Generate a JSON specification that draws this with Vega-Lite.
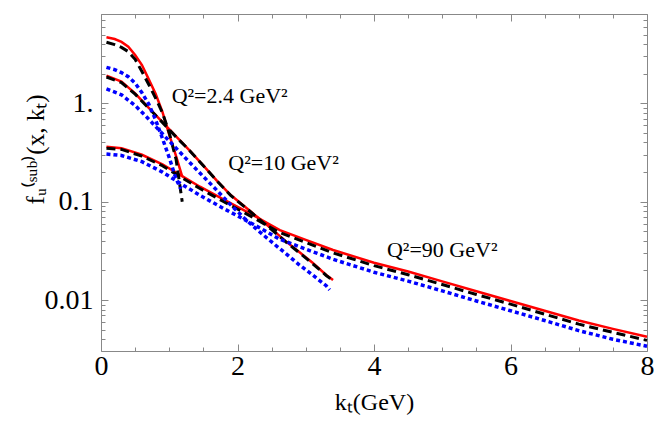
{
  "$schema": "https://vega.github.io/schema/vega-lite/v6.json",
  "width": 546,
  "height": 337,
  "autosize": {"type": "none"},
  "padding": {"left": 101, "top": 14, "right": 7, "bottom": 79},
  "background": "white",
  "datasets": {
    "curves": [
      {"model": "red", "q2": "2.4", "kT": 0.08, "f": 4.69},
      {"model": "red", "q2": "2.4", "kT": 0.2, "f": 4.5},
      {"model": "red", "q2": "2.4", "kT": 0.3, "f": 4.2},
      {"model": "red", "q2": "2.4", "kT": 0.4, "f": 3.76},
      {"model": "red", "q2": "2.4", "kT": 0.5, "f": 3.1},
      {"model": "red", "q2": "2.4", "kT": 0.6, "f": 2.45},
      {"model": "red", "q2": "2.4", "kT": 0.7, "f": 1.75},
      {"model": "red", "q2": "2.4", "kT": 0.8, "f": 1.25},
      {"model": "red", "q2": "2.4", "kT": 0.9, "f": 0.82},
      {"model": "red", "q2": "2.4", "kT": 1.0, "f": 0.48},
      {"model": "red", "q2": "2.4", "kT": 1.1, "f": 0.29},
      {"model": "red", "q2": "2.4", "kT": 1.19, "f": 0.18},
      {"model": "black", "q2": "2.4", "kT": 0.08, "f": 4.17},
      {"model": "black", "q2": "2.4", "kT": 0.2, "f": 3.95},
      {"model": "black", "q2": "2.4", "kT": 0.3, "f": 3.7},
      {"model": "black", "q2": "2.4", "kT": 0.4, "f": 3.35},
      {"model": "black", "q2": "2.4", "kT": 0.5, "f": 2.8},
      {"model": "black", "q2": "2.4", "kT": 0.6, "f": 2.1},
      {"model": "black", "q2": "2.4", "kT": 0.7, "f": 1.55},
      {"model": "black", "q2": "2.4", "kT": 0.8, "f": 1.13},
      {"model": "black", "q2": "2.4", "kT": 0.9, "f": 0.8},
      {"model": "black", "q2": "2.4", "kT": 1.0, "f": 0.5},
      {"model": "black", "q2": "2.4", "kT": 1.1, "f": 0.27},
      {"model": "black", "q2": "2.4", "kT": 1.19, "f": 0.1},
      {"model": "blue", "q2": "2.4", "kT": 0.08, "f": 2.32},
      {"model": "blue", "q2": "2.4", "kT": 0.2, "f": 2.2},
      {"model": "blue", "q2": "2.4", "kT": 0.3, "f": 2.05},
      {"model": "blue", "q2": "2.4", "kT": 0.4, "f": 1.86},
      {"model": "blue", "q2": "2.4", "kT": 0.5, "f": 1.6},
      {"model": "blue", "q2": "2.4", "kT": 0.6, "f": 1.28},
      {"model": "blue", "q2": "2.4", "kT": 0.7, "f": 0.98},
      {"model": "blue", "q2": "2.4", "kT": 0.8, "f": 0.68},
      {"model": "blue", "q2": "2.4", "kT": 0.9, "f": 0.44},
      {"model": "blue", "q2": "2.4", "kT": 1.0, "f": 0.28},
      {"model": "blue", "q2": "2.4", "kT": 1.1, "f": 0.17},
      {"model": "blue", "q2": "2.4", "kT": 1.17, "f": 0.135},
      {"model": "red", "q2": "10", "kT": 0.08, "f": 1.91},
      {"model": "red", "q2": "10", "kT": 0.3, "f": 1.66},
      {"model": "red", "q2": "10", "kT": 0.5, "f": 1.26},
      {"model": "red", "q2": "10", "kT": 0.7, "f": 0.9},
      {"model": "red", "q2": "10", "kT": 0.9, "f": 0.645},
      {"model": "red", "q2": "10", "kT": 1.1, "f": 0.46},
      {"model": "red", "q2": "10", "kT": 1.3, "f": 0.33},
      {"model": "red", "q2": "10", "kT": 1.5, "f": 0.233},
      {"model": "red", "q2": "10", "kT": 1.7, "f": 0.163},
      {"model": "red", "q2": "10", "kT": 1.9, "f": 0.117},
      {"model": "red", "q2": "10", "kT": 2.1, "f": 0.09},
      {"model": "red", "q2": "10", "kT": 2.3, "f": 0.069},
      {"model": "red", "q2": "10", "kT": 2.5, "f": 0.053},
      {"model": "red", "q2": "10", "kT": 2.7, "f": 0.04},
      {"model": "red", "q2": "10", "kT": 2.9, "f": 0.031},
      {"model": "red", "q2": "10", "kT": 3.1, "f": 0.024},
      {"model": "red", "q2": "10", "kT": 3.3, "f": 0.018},
      {"model": "red", "q2": "10", "kT": 3.4, "f": 0.016},
      {"model": "black", "q2": "10", "kT": 0.08, "f": 1.85},
      {"model": "black", "q2": "10", "kT": 0.3, "f": 1.62},
      {"model": "black", "q2": "10", "kT": 0.5, "f": 1.24},
      {"model": "black", "q2": "10", "kT": 0.7, "f": 0.89},
      {"model": "black", "q2": "10", "kT": 0.9, "f": 0.64},
      {"model": "black", "q2": "10", "kT": 1.1, "f": 0.455},
      {"model": "black", "q2": "10", "kT": 1.3, "f": 0.33},
      {"model": "black", "q2": "10", "kT": 1.5, "f": 0.232},
      {"model": "black", "q2": "10", "kT": 1.7, "f": 0.162},
      {"model": "black", "q2": "10", "kT": 1.9, "f": 0.116},
      {"model": "black", "q2": "10", "kT": 2.1, "f": 0.089},
      {"model": "black", "q2": "10", "kT": 2.3, "f": 0.068},
      {"model": "black", "q2": "10", "kT": 2.5, "f": 0.052},
      {"model": "black", "q2": "10", "kT": 2.7, "f": 0.0395},
      {"model": "black", "q2": "10", "kT": 2.9, "f": 0.0305},
      {"model": "black", "q2": "10", "kT": 3.1, "f": 0.0235},
      {"model": "black", "q2": "10", "kT": 3.3, "f": 0.0178},
      {"model": "black", "q2": "10", "kT": 3.4, "f": 0.0158},
      {"model": "blue", "q2": "10", "kT": 0.08, "f": 1.4},
      {"model": "blue", "q2": "10", "kT": 0.3, "f": 1.22},
      {"model": "blue", "q2": "10", "kT": 0.5, "f": 0.95},
      {"model": "blue", "q2": "10", "kT": 0.7, "f": 0.69},
      {"model": "blue", "q2": "10", "kT": 0.9, "f": 0.49},
      {"model": "blue", "q2": "10", "kT": 1.1, "f": 0.35},
      {"model": "blue", "q2": "10", "kT": 1.3, "f": 0.25},
      {"model": "blue", "q2": "10", "kT": 1.5, "f": 0.18},
      {"model": "blue", "q2": "10", "kT": 1.7, "f": 0.13},
      {"model": "blue", "q2": "10", "kT": 1.9, "f": 0.093},
      {"model": "blue", "q2": "10", "kT": 2.1, "f": 0.068},
      {"model": "blue", "q2": "10", "kT": 2.3, "f": 0.051},
      {"model": "blue", "q2": "10", "kT": 2.5, "f": 0.039},
      {"model": "blue", "q2": "10", "kT": 2.7, "f": 0.03},
      {"model": "blue", "q2": "10", "kT": 2.9, "f": 0.023},
      {"model": "blue", "q2": "10", "kT": 3.1, "f": 0.018},
      {"model": "blue", "q2": "10", "kT": 3.3, "f": 0.014},
      {"model": "blue", "q2": "10", "kT": 3.35, "f": 0.0127},
      {"model": "red", "q2": "90", "kT": 0.08, "f": 0.362},
      {"model": "red", "q2": "90", "kT": 0.3, "f": 0.35},
      {"model": "red", "q2": "90", "kT": 0.6, "f": 0.3},
      {"model": "red", "q2": "90", "kT": 0.9, "f": 0.24},
      {"model": "red", "q2": "90", "kT": 1.2, "f": 0.18},
      {"model": "red", "q2": "90", "kT": 1.45, "f": 0.142},
      {"model": "red", "q2": "90", "kT": 1.8, "f": 0.105},
      {"model": "red", "q2": "90", "kT": 2.23, "f": 0.073},
      {"model": "red", "q2": "90", "kT": 2.62, "f": 0.0515},
      {"model": "red", "q2": "90", "kT": 3.0, "f": 0.041},
      {"model": "red", "q2": "90", "kT": 3.4, "f": 0.0323},
      {"model": "red", "q2": "90", "kT": 4.0, "f": 0.024},
      {"model": "red", "q2": "90", "kT": 4.5, "f": 0.0195},
      {"model": "red", "q2": "90", "kT": 5.0, "f": 0.0155},
      {"model": "red", "q2": "90", "kT": 5.5, "f": 0.0123},
      {"model": "red", "q2": "90", "kT": 6.0, "f": 0.0098},
      {"model": "red", "q2": "90", "kT": 6.5, "f": 0.0078},
      {"model": "red", "q2": "90", "kT": 7.0, "f": 0.0062},
      {"model": "red", "q2": "90", "kT": 7.5, "f": 0.0051},
      {"model": "red", "q2": "90", "kT": 8.0, "f": 0.00425},
      {"model": "black", "q2": "90", "kT": 0.08, "f": 0.35},
      {"model": "black", "q2": "90", "kT": 0.3, "f": 0.34},
      {"model": "black", "q2": "90", "kT": 0.6, "f": 0.29},
      {"model": "black", "q2": "90", "kT": 0.9, "f": 0.232},
      {"model": "black", "q2": "90", "kT": 1.2, "f": 0.173},
      {"model": "black", "q2": "90", "kT": 1.45, "f": 0.136},
      {"model": "black", "q2": "90", "kT": 1.8, "f": 0.1},
      {"model": "black", "q2": "90", "kT": 2.23, "f": 0.069},
      {"model": "black", "q2": "90", "kT": 2.62, "f": 0.0485},
      {"model": "black", "q2": "90", "kT": 3.0, "f": 0.0385},
      {"model": "black", "q2": "90", "kT": 3.4, "f": 0.0302},
      {"model": "black", "q2": "90", "kT": 4.0, "f": 0.0224},
      {"model": "black", "q2": "90", "kT": 4.5, "f": 0.0181},
      {"model": "black", "q2": "90", "kT": 5.0, "f": 0.0144},
      {"model": "black", "q2": "90", "kT": 5.5, "f": 0.0114},
      {"model": "black", "q2": "90", "kT": 6.0, "f": 0.0091},
      {"model": "black", "q2": "90", "kT": 6.5, "f": 0.0072},
      {"model": "black", "q2": "90", "kT": 7.0, "f": 0.0057},
      {"model": "black", "q2": "90", "kT": 7.5, "f": 0.0047},
      {"model": "black", "q2": "90", "kT": 8.0, "f": 0.0039},
      {"model": "blue", "q2": "90", "kT": 0.08, "f": 0.305},
      {"model": "blue", "q2": "90", "kT": 0.3, "f": 0.295},
      {"model": "blue", "q2": "90", "kT": 0.6, "f": 0.255},
      {"model": "blue", "q2": "90", "kT": 0.9, "f": 0.2},
      {"model": "blue", "q2": "90", "kT": 1.2, "f": 0.148},
      {"model": "blue", "q2": "90", "kT": 1.45, "f": 0.116},
      {"model": "blue", "q2": "90", "kT": 1.8, "f": 0.085},
      {"model": "blue", "q2": "90", "kT": 2.23, "f": 0.059},
      {"model": "blue", "q2": "90", "kT": 2.62, "f": 0.0415},
      {"model": "blue", "q2": "90", "kT": 3.0, "f": 0.033},
      {"model": "blue", "q2": "90", "kT": 3.4, "f": 0.026},
      {"model": "blue", "q2": "90", "kT": 4.0, "f": 0.0192},
      {"model": "blue", "q2": "90", "kT": 4.5, "f": 0.0156},
      {"model": "blue", "q2": "90", "kT": 5.0, "f": 0.0124},
      {"model": "blue", "q2": "90", "kT": 5.5, "f": 0.0098},
      {"model": "blue", "q2": "90", "kT": 6.0, "f": 0.0078},
      {"model": "blue", "q2": "90", "kT": 6.5, "f": 0.0062},
      {"model": "blue", "q2": "90", "kT": 7.0, "f": 0.0049},
      {"model": "blue", "q2": "90", "kT": 7.5, "f": 0.004},
      {"model": "blue", "q2": "90", "kT": 8.0, "f": 0.0034}
    ],
    "labels": [
      {"kT": 1.035, "f": 1.0, "text": "Q²=2.4 GeV²"},
      {"kT": 1.865, "f": 0.21, "text": "Q²=10 GeV²"},
      {"kT": 4.19, "f": 0.0272, "text": "Q²=90 GeV²"}
    ]
  },
  "layer": [
    {
      "data": {"name": "curves"},
      "transform": [{"filter": "datum.model == 'red'"}],
      "mark": {"type": "line", "color": "#ff0000", "strokeWidth": 2.5},
      "encoding": {
        "x": {
          "field": "kT", "type": "quantitative",
          "scale": {"domain": [0, 8], "nice": false, "zero": false},
          "axis": {"orient": "bottom", "values": [0, 2, 4, 6, 8], "tickSize": -7, "labelPadding": 8,
                   "labelFontSize": 28, "title": "kₜ(GeV)", "titleFontSize": 24, "titlePadding": 10}
        },
        "y": {
          "field": "f", "type": "quantitative",
          "scale": {"type": "log", "domain": [0.00304, 8.08], "nice": false},
          "axis": {"orient": "left", "values": [0.01, 0.1, 1], "tickSize": -7, "labelPadding": 15,
                   "labelFontSize": 28, "labelExpr": "datum.value == 1 ? '1.' : datum.label",
                   "title": "fᵤ⁽ˢᵘᵇ⁾(x, kₜ)", "titleFontSize": 25,
                   "titleX": -66, "titleY": 135, "titleAngle": -90, "titleAlign": "center", "titleBaseline": "middle"}
        },
        "detail": {"field": "q2"}
      }
    },
    {
      "data": {"name": "curves"},
      "transform": [{"filter": "datum.model == 'black'"}],
      "mark": {"type": "line", "color": "#000000", "strokeWidth": 3, "strokeDash": [9, 5]},
      "encoding": {
        "x": {
          "field": "kT", "type": "quantitative",
          "scale": {"domain": [0, 8], "nice": false, "zero": false},
          "axis": {"orient": "bottom", "values": [0.5, 1, 1.5, 2.5, 3, 3.5, 4.5, 5, 5.5, 6.5, 7, 7.5],
                   "tickSize": -4, "labels": false, "title": null}
        },
        "y": {
          "field": "f", "type": "quantitative",
          "scale": {"type": "log", "domain": [0.00304, 8.08], "nice": false},
          "axis": {"orient": "left",
                   "values": [0.004, 0.005, 0.006, 0.007, 0.008, 0.009, 0.02, 0.03, 0.04, 0.05, 0.06, 0.07, 0.08, 0.09, 0.2, 0.3, 0.4, 0.5, 0.6, 0.7, 0.8, 0.9, 2, 3, 4, 5, 6, 7, 8],
                   "tickSize": -4, "labels": false, "title": null}
        },
        "detail": {"field": "q2"}
      }
    },
    {
      "data": {"name": "curves"},
      "transform": [{"filter": "datum.model == 'blue'"}],
      "mark": {"type": "line", "color": "#0000ff", "strokeWidth": 3.5, "strokeDash": [4, 3]},
      "encoding": {
        "x": {
          "field": "kT", "type": "quantitative",
          "scale": {"domain": [0, 8], "nice": false, "zero": false},
          "axis": {"orient": "top", "values": [0, 2, 4, 6, 8], "tickSize": -7, "labels": false, "title": null}
        },
        "y": {
          "field": "f", "type": "quantitative",
          "scale": {"type": "log", "domain": [0.00304, 8.08], "nice": false},
          "axis": {"orient": "right", "values": [0.01, 0.1, 1], "tickSize": -7, "labels": false, "title": null}
        },
        "detail": {"field": "q2"}
      }
    },
    {
      "data": {"name": "labels"},
      "mark": {"type": "text", "align": "left", "baseline": "alphabetic", "font": "Liberation Serif", "fontSize": 22, "color": "black"},
      "encoding": {
        "x": {
          "field": "kT", "type": "quantitative",
          "scale": {"domain": [0, 8], "nice": false, "zero": false},
          "axis": {"orient": "top", "values": [0.5, 1, 1.5, 2.5, 3, 3.5, 4.5, 5, 5.5, 6.5, 7, 7.5],
                   "tickSize": -4, "labels": false, "title": null}
        },
        "y": {
          "field": "f", "type": "quantitative",
          "scale": {"type": "log", "domain": [0.00304, 8.08], "nice": false},
          "axis": {"orient": "right",
                   "values": [0.004, 0.005, 0.006, 0.007, 0.008, 0.009, 0.02, 0.03, 0.04, 0.05, 0.06, 0.07, 0.08, 0.09, 0.2, 0.3, 0.4, 0.5, 0.6, 0.7, 0.8, 0.9, 2, 3, 4, 5, 6, 7, 8],
                   "tickSize": -4, "labels": false, "title": null}
        },
        "text": {"field": "text"}
      }
    }
  ],
  "resolve": {
    "scale": {"x": "independent", "y": "independent"},
    "axis": {"x": "independent", "y": "independent"}
  },
  "config": {
    "view": {"stroke": "#888888", "strokeWidth": 1},
    "axis": {
      "grid": false,
      "domain": false,
      "tickColor": "#888888",
      "tickWidth": 1,
      "labelFont": "Liberation Serif",
      "labelColor": "black",
      "labelOverlap": false,
      "labelFlush": false,
      "titleFont": "Liberation Serif",
      "titleColor": "black",
      "titleFontWeight": "normal"
    }
  }
}
